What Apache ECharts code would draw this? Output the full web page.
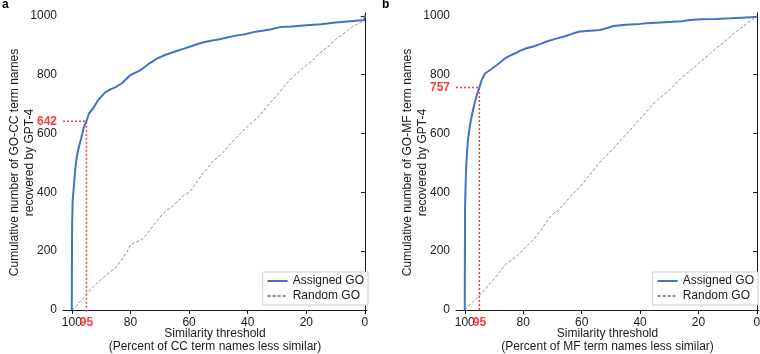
<!DOCTYPE html>
<html><head><meta charset="utf-8">
<script src="https://cdn.jsdelivr.net/npm/echarts@6/dist/echarts.min.js"></script>
<style>html,body{margin:0;padding:0;background:#fff}#c{width:760px;height:354px}</style>
</head><body><div id="c"></div>
<script>
// ---- data ----
const yTicks = [0, 200, 400, 600, 800, 1000];
const xTicks = [100, 80, 60, 40, 20, 0];
const refX = 95;
const ccRefY = 642;
const mfRefY = 757;
const panelLetters = ['a', 'b'];
const seriesNames = ['Assigned GO', 'Random GO'];
const ccAssigned = [[100,0],[99.95,150],[99.9,283],[99.7,374],[99.3,419],[98.85,476],[98.3,521],[97.7,550],[96.8,584],[96,618],[95,642],[94.1,669],[92.7,686],[91,714],[88.7,739],[86.9,750],[85.2,757],[82.9,771],[80,799],[76.5,816],[74,835],[71,855],[68,868],[65,878],[62,888],[59,898],[56,908],[53,915],[50,920],[47,927],[44,933],[41,938],[38,945],[35,950],[32,955],[29,962],[25,964],[20,968],[15,972],[10,978],[5,982],[1,985],[0.3,985],[0,1002]];
const ccRandom = [[100,0],[99,8],[97,30],[95,55],[93,75],[91,95],[89,112],[87,128],[85,145],[83,170],[81,200],[80,222],[78,232],[76,240],[74,262],[72,290],[70,315],[68,335],[66,350],[64,368],[62,388],[60,400],[58,425],[56,455],[54,478],[52,505],[50,520],[48,540],[46,565],[44,585],[42,605],[40,625],[38,642],[36,660],[34,685],[32,708],[30,730],[28,755],[26,778],[24,798],[22,815],[20,832],[18,848],[16,868],[14,885],[12,900],[10,920],[8,935],[6,950],[4,965],[2,975],[0,985]];
const mfAssigned = [[100,0],[99.95,200],[99.9,351],[99.7,430],[99.5,488],[99.2,540],[98.9,578],[98.5,608],[98.1,635],[97.5,665],[96.9,692],[96.3,715],[95.7,737],[95,757],[94.2,782],[93,805],[91.3,816],[89,833],[87.5,845],[86.2,856],[84.5,865],[82.7,873],[81,882],[78.9,890],[76.5,896],[74,905],[72,913],[69,922],[66,930],[63,940],[60.6,947],[57,950],[53.7,952],[51,960],[49,966],[45,970],[40,973],[37.7,975],[33,978],[29,980],[26,982],[22,987],[19,989],[14,990],[9,992],[5,994],[1,996],[0.2,997],[0,1000]];
const mfRandom = [[100,0],[98,20],[96,40],[94,60],[92,82],[90,105],[88,130],[86,155],[84,170],[82,185],[80,205],[78,225],[76,245],[74,270],[72,300],[70,325],[68,340],[66,360],[64,385],[62,405],[60,425],[58,450],[56,475],[54,500],[52,520],[50,540],[48,562],[46,585],[44,605],[42,628],[40,650],[38,672],[36,695],[34,715],[32,732],[30,748],[28,768],[26,788],[24,805],[22,820],[20,838],[18,855],[16,872],[14,890],[12,905],[10,922],[8,940],[6,955],[4,970],[2,985],[0,998]];
const yNames = ['Cumulative number of GO-CC term names\nrecovered by GPT-4', 'Cumulative number of GO-MF term names\nrecovered by GPT-4'];
const xNames = ['Similarity threshold\n(Percent of CC term names less similar)', 'Similarity threshold\n(Percent of MF term names less similar)'];

// ---- chart ----
const FONT = '"Liberation Sans", Arial, sans-serif';
const BLUE = '#4472C4', GREY = '#8f8f8f', RED = '#ff3b3b', INK = '#1a1a1a';
const X_MIN = -0.7, X_MAX = 103, Y_MIN = -7, Y_MAX = 1010;
const panels = [
  {left: 63, width: 304, assigned: ccAssigned, random: ccRandom, refY: ccRefY, legendRight: 392},
  {left: 456, width: 303, assigned: mfAssigned, random: mfRandom, refY: mfRefY, legendRight: 2}
];
const grid = [], xAxis = [], yAxis = [], series = [], legend = [], title = [];
panels.forEach((p, i) => {
  grid.push({left: p.left, top: 13, width: p.width, height: 299, containLabel: false, outerBoundsMode: 'none'});
  xAxis.push({
    type: 'value', gridIndex: i, min: X_MIN, max: X_MAX, inverse: true,
    splitLine: {show: false},
    axisLine: {lineStyle: {color: INK, width: 1}},
    axisTick: {show: true, length: 4, lineStyle: {color: INK}, customValues: xTicks},
    axisLabel: {
      customValues: xTicks.concat([refX]), margin: 5, color: INK, fontSize: 12, fontFamily: FONT,
      formatter: v => v === refX ? '{r|' + v + '}' : String(v),
      rich: {r: {color: RED, fontWeight: 'bold', fontSize: 12, fontFamily: FONT}}
    },
    name: xNames[i], nameLocation: 'middle', nameGap: 15, nameMoveOverlap: false,
    nameTextStyle: {color: INK, fontSize: 12, fontFamily: FONT, lineHeight: 13, verticalAlign: 'top'}
  });
  yAxis.push({
    type: 'value', gridIndex: i, min: Y_MIN, max: Y_MAX,
    splitLine: {show: false},
    axisLine: {show: true, lineStyle: {color: INK, width: 1}},
    axisTick: {show: true, length: 4, lineStyle: {color: INK}, customValues: yTicks},
    axisLabel: {
      customValues: yTicks.concat([p.refY]), margin: 6, color: INK, fontSize: 12, fontFamily: FONT,
      formatter: v => v === p.refY ? '{r|' + v + '}' : String(v),
      rich: {r: {color: RED, fontWeight: 'bold', fontSize: 12, fontFamily: FONT}}
    },
    name: yNames[i], nameLocation: 'middle', nameGap: 26, nameRotate: 90, nameMoveOverlap: false,
    nameTextStyle: {color: INK, fontSize: 12, fontFamily: FONT, lineHeight: 15}
  });
  series.push({
    name: seriesNames[0], type: 'line', xAxisIndex: i, yAxisIndex: i, data: p.assigned,
    showSymbol: false, symbol: 'none', lineStyle: {color: BLUE, width: 2}, itemStyle: {color: BLUE}, z: 3
  });
  series.push({
    name: seriesNames[1], type: 'line', xAxisIndex: i, yAxisIndex: i, data: p.random,
    showSymbol: false, symbol: 'none', lineStyle: {color: GREY, width: 1, type: [3, 2]}, itemStyle: {color: GREY}, z: 2
  });
  series.push({
    name: 'ref' + i, type: 'line', xAxisIndex: i, yAxisIndex: i,
    data: [[X_MAX, p.refY], [refX, p.refY], [refX, Y_MIN]],
    showSymbol: false, symbol: 'none', silent: true,
    lineStyle: {color: RED, width: 1.5, type: [2, 2]}, z: 1
  });
  legend.push({
    data: seriesNames, orient: 'vertical', right: p.legendRight, top: 272,
    itemWidth: 20, itemHeight: 12, itemGap: 3, padding: [3, 4, 3, 4],
    borderColor: '#cfcfcf', borderWidth: 1, backgroundColor: '#fff',
    itemStyle: {opacity: 0},
    textStyle: {color: INK, fontSize: 12, fontFamily: FONT}, selectedMode: false
  });
  title.push({text: panelLetters[i], left: i === 0 ? 0 : 380, top: -3, padding: 2,
    textStyle: {fontSize: 12, fontWeight: 'bold', color: '#000', fontFamily: FONT}});
});
const chart = echarts.init(document.getElementById('c'), null, {renderer: 'canvas'});
chart.setOption({animation: false, backgroundColor: '#fff', title, grid, xAxis, yAxis, series, legend});
</script></body></html>
